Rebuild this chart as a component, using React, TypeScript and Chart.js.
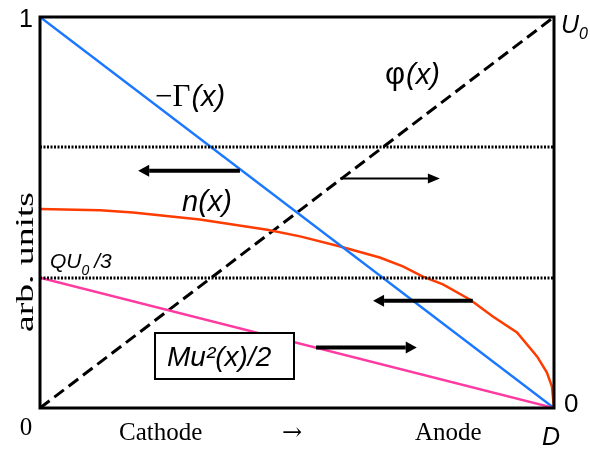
import React, { useEffect, useRef } from "react";
import { Chart, registerables } from "chart.js";

Chart.register(...registerables);

// ---- data (unit-normalised coordinates, 0..1) ----
const gammaX = [0, 1];
const gammaY = [1, 0];
const phiX = [0, 1];
const phiY = [0, 1];
const kinX = [0, 1];
const kinY = [0.333, 0];
const nX = [0, 0.117, 0.181, 0.311, 0.442, 0.506, 0.584, 0.661, 0.706, 0.745, 0.784, 0.837, 0.881, 0.928, 0.967, 0.986, 0.996, 1.0];
const nY = [0.509, 0.506, 0.5, 0.482, 0.456, 0.439, 0.413, 0.385, 0.362, 0.336, 0.316, 0.277, 0.234, 0.193, 0.132, 0.091, 0.055, 0.0];
const levelY = [0.667, 0.333];

// arrows: from x, to x, at y
const arrowFromX = [0.389, 0.584, 0.842, 0.537];
const arrowToX = [0.191, 0.778, 0.648, 0.733];
const arrowY = [0.607, 0.587, 0.274, 0.155];
const arrowThick = [true, false, true, true];

const xTickLabels = ["0", "D"];
const leftTickLabel = "1";
const rightTickLabels = ["U", "0"];
const axisCaptions = ["Cathode", "\u2192", "Anode"];
const yTitle = "arb. units";

const SANS = "'Liberation Sans', Arial, sans-serif";
const SERIF = "'Liberation Serif', 'Times New Roman', serif";

function pts(xs: number[], ys: number[]) {
  return xs.map((x, i) => ({ x, y: ys[i] }));
}

type Part = { t: string; font: string; dy?: number; gap?: number };
function drawParts(ctx: CanvasRenderingContext2D, parts: Part[], x: number, y: number) {
  let cx = x;
  for (const p of parts) {
    ctx.font = p.font;
    ctx.fillText(p.t, cx, y + (p.dy || 0));
    cx += ctx.measureText(p.t).width + (p.gap || 0);
  }
}

const overlay = {
  id: "overlay",
  afterDatasetsDraw(chart: any) {
    const ctx: CanvasRenderingContext2D = chart.ctx;
    const xs = chart.scales.x;
    const ys = chart.scales.y;
    const { left, right, top, bottom } = chart.chartArea;
    ctx.save();

    // dotted levels
    ctx.strokeStyle = "#000";
    ctx.lineWidth = 3;
    ctx.setLineDash([2, 1.5]);
    for (const v of levelY) {
      const py = Math.round(ys.getPixelForValue(v));
      ctx.beginPath();
      ctx.moveTo(left, py);
      ctx.lineTo(right, py);
      ctx.stroke();
    }
    ctx.setLineDash([]);

    // arrows
    ctx.fillStyle = "#000";
    for (let i = 0; i < arrowY.length; i++) {
      const x0 = xs.getPixelForValue(arrowFromX[i]);
      const x1 = xs.getPixelForValue(arrowToX[i]);
      const py = ys.getPixelForValue(arrowY[i]);
      const dir = Math.sign(x1 - x0);
      const thick = arrowThick[i];
      const hl = thick ? 11 : 12;
      const hw = thick ? 6 : 5;
      ctx.lineWidth = thick ? 4 : 2;
      ctx.beginPath();
      ctx.moveTo(x0, py);
      ctx.lineTo(x1 - dir * hl, py);
      ctx.stroke();
      ctx.beginPath();
      ctx.moveTo(x1, py);
      ctx.lineTo(x1 - dir * hl, py - hw);
      ctx.lineTo(x1 - dir * hl, py + hw);
      ctx.closePath();
      ctx.fill();
    }

    // label box
    ctx.fillStyle = "#fff";
    ctx.fillRect(155, 333, 139, 46);
    ctx.lineWidth = 2;
    ctx.strokeStyle = "#000";
    ctx.strokeRect(155, 333, 139, 46);
    ctx.fillStyle = "#000";
    ctx.textBaseline = "alphabetic";
    ctx.textAlign = "left";
    drawParts(ctx, [{ t: "Mu\u00b2(x)/2", font: `italic 28px ${SANS}` }], 167, 366);

    // frame
    ctx.lineWidth = 3;
    ctx.strokeRect(left, top, right - left, bottom - top);

    // curve labels
    drawParts(ctx, [
      { t: "\u2212\u0393", font: `31px ${SERIF}`, gap: 1 },
      { t: "(x)", font: `italic 29px ${SANS}` },
    ], 155, 106);
    drawParts(ctx, [
      { t: "\u03c6", font: `31px ${SANS}`, gap: 1 },
      { t: "(x)", font: `italic 29px ${SANS}` },
    ], 385, 84);
    drawParts(ctx, [{ t: "n(x)", font: `italic 29px ${SANS}` }], 182, 211);
    drawParts(ctx, [
      { t: "QU", font: `italic 21px ${SANS}` },
      { t: "0", font: `italic 14px ${SANS}`, dy: 7, gap: 5 },
      { t: "/3", font: `italic 21px ${SANS}` },
    ], 50, 268);

    // ticks
    ctx.font = `25px ${SANS}`;
    ctx.textAlign = "right";
    ctx.fillText(leftTickLabel, left - 7, ys.getPixelForValue(1) + 10);
    ctx.textAlign = "center";
    ctx.font = `25px ${SERIF}`;
    ctx.fillText(xTickLabels[0], xs.getPixelForValue(0) - 14, bottom + 27);
    ctx.font = `italic 25px ${SANS}`;
    ctx.fillText(xTickLabels[1], xs.getPixelForValue(1) - 3, bottom + 37);
    ctx.textAlign = "left";
    drawParts(ctx, [
      { t: rightTickLabels[0], font: `italic 25px ${SANS}` },
      { t: "0", font: `italic 16px ${SANS}`, dy: 6 },
    ], right + 7, ys.getPixelForValue(1) + 16);
    ctx.font = `26px ${SANS}`;
    ctx.fillText(rightTickLabels[1], right + 10, ys.getPixelForValue(0) + 4);

    // axis captions
    ctx.font = `25px ${SERIF}`;
    ctx.fillText(axisCaptions[0], 119, bottom + 32);
    ctx.fillText(axisCaptions[2], 415, bottom + 32);
    ctx.font = `24px 'DejaVu Serif', ${SERIF}`;
    ctx.fillText(axisCaptions[1], 282, bottom + 32);

    // y title (stretched to the reference's length)
    ctx.save();
    ctx.translate(33, 262);
    ctx.rotate(-Math.PI / 2);
    ctx.textAlign = "center";
    ctx.font = `26px ${SERIF}`;
    const w = ctx.measureText(yTitle).width;
    ctx.scale(140 / w, 1);
    ctx.fillText(yTitle, 0, 0);
    ctx.restore();

    ctx.restore();
  },
};

export default function App() {
  const ref = useRef<HTMLCanvasElement>(null);
  useEffect(() => {
    document.body.style.margin = "0";
    const chart = new Chart(ref.current!, {
      type: "scatter",
      data: {
        datasets: [
          {
            data: pts(kinX, kinY),
            showLine: true,
            borderColor: "#ff3aa0",
            borderWidth: 2.5,
            pointRadius: 0,
          },
          {
            data: pts(gammaX, gammaY),
            showLine: true,
            borderColor: "#1a78ff",
            borderWidth: 2.5,
            pointRadius: 0,
          },
          {
            data: pts(nX, nY),
            showLine: true,
            borderColor: "#ff3c00",
            borderWidth: 2.5,
            pointRadius: 0,
          },
          {
            data: pts(phiX, phiY),
            showLine: true,
            borderColor: "#000",
            borderWidth: 3,
            borderDash: [12, 6],
            pointRadius: 0,
          },
        ],
      },
      options: {
        animation: false,
        responsive: false,
        devicePixelRatio: 1,
        layout: { padding: { left: 40, top: 17, right: 36, bottom: 43 } },
        plugins: { legend: { display: false }, tooltip: { enabled: false } },
        scales: {
          x: { type: "linear", min: 0, max: 1, display: false },
          y: { type: "linear", min: 0, max: 1, display: false },
        },
      },
      plugins: [overlay],
    });
    return () => chart.destroy();
  }, []);
  return (
    <div style={{ width: 590, height: 451 }}>
      <canvas ref={ref} width={590} height={451} style={{ display: "block" }} />
    </div>
  );
}
